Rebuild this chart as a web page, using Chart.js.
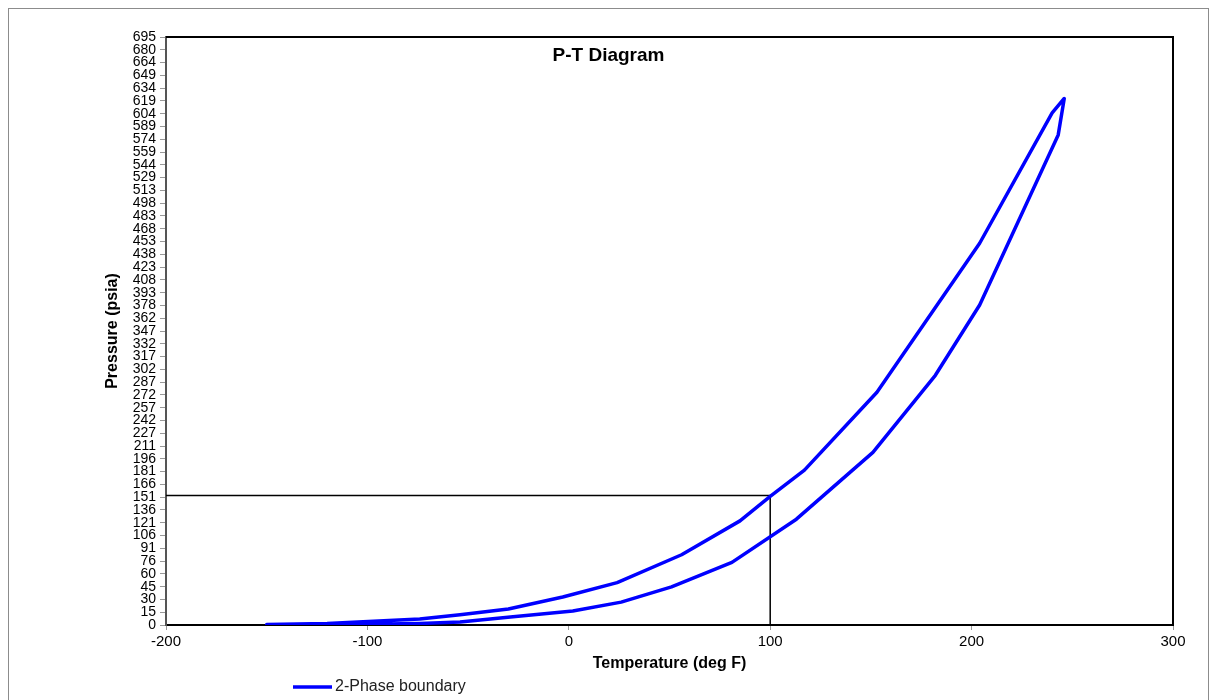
<!DOCTYPE html>
<html lang="en">
<head>
  <meta charset="UTF-8">
  <title>P-T Diagram</title>
  <script src="https://cdn.jsdelivr.net/npm/chart.js"></script>
  <style>
    html, body { margin: 0; padding: 0; background: #fff; }
    #wrap { width: 1217px; height: 700px; }
  </style>
</head>
<body>
<div id="wrap"><canvas id="ptChart" width="1217" height="700"></canvas></div>
<script>
  // bubble-point side, left to right up to the critical point
  const bubbleTemp = [-150, -120, -74, -54, -30, -3, 24, 56, 85, 100, 117, 153, 204, 240, 246];
  const bubblePres = [0.5, 1.8, 7, 12, 19, 33, 50, 83, 123, 152, 183, 275, 451, 605, 622];
  // dew-point side, coming back down from the critical point
  const dewTemp = [243, 204, 182, 151, 113, 81, 51, 26, 2, -29, -54, -74, -100, -150];
  const dewPres = [579, 378, 295, 204, 125, 74, 45, 27, 16.5, 9.5, 3.5, 1.8, 0.8, 0.5];
  // operating point guide lines
  const refTemp = [-200, 100, 100];
  const refPres = [153, 153, 0];

  const yTickLabels = [0, 15, 30, 45, 60, 76, 91, 106, 121, 136, 151, 166, 181, 196, 211, 227,
    242, 257, 272, 287, 302, 317, 332, 347, 362, 378, 393, 408, 423, 438, 453, 468, 483, 498,
    513, 529, 544, 559, 574, 589, 604, 619, 634, 649, 664, 680, 695];
  const yMax = 694.65;
  const xMin = -200, xMax = 300, xStep = 100;

  const FONT = "'Liberation Sans', Arial, sans-serif";

  const boundary = bubbleTemp.map((t, i) => ({ x: t, y: bubblePres[i] }))
    .concat(dewTemp.map((t, i) => ({ x: t, y: dewPres[i] })));
  const guide = refTemp.map((t, i) => ({ x: t, y: refPres[i] }));

  const decor = {
    id: 'decor',
    beforeDraw(chart) {
      const ctx = chart.ctx;
      ctx.save();
      ctx.fillStyle = '#fff';
      ctx.fillRect(0, 0, chart.width, chart.height);
      ctx.strokeStyle = '#8c8c8c';
      ctx.lineWidth = 1;
      ctx.strokeRect(8.5, 8.5, chart.width - 17, chart.height + 20);
      ctx.restore();
    },
    afterDraw(chart) {
      const ctx = chart.ctx;
      const a = chart.chartArea;
      ctx.save();
      // top and right edges of the plot frame
      ctx.strokeStyle = '#000';
      ctx.lineWidth = 2;
      ctx.beginPath();
      ctx.moveTo(a.left, a.top);
      ctx.lineTo(a.right, a.top);
      ctx.lineTo(a.right, a.bottom);
      ctx.stroke();

      // chart title
      ctx.fillStyle = '#000';
      ctx.font = 'bold 19px ' + FONT;
      ctx.textAlign = 'center';
      ctx.textBaseline = 'middle';
      ctx.fillText('P-T Diagram', chart.width / 2, a.top + 19);

      // legend
      const ly = chart.height - 13;
      ctx.strokeStyle = '#0000ff';
      ctx.lineWidth = 3.5;
      ctx.beginPath();
      ctx.moveTo(293, ly);
      ctx.lineTo(332, ly);
      ctx.stroke();
      ctx.fillStyle = '#222';
      ctx.font = '16px ' + FONT;
      ctx.textAlign = 'left';
      ctx.fillText(chart.data.datasets[0].label, 335, ly);
      ctx.restore();
    }
  };

  new Chart(document.getElementById('ptChart'), {
    type: 'scatter',
    data: {
      datasets: [{
        label: '2-Phase boundary',
        data: boundary,
        showLine: true,
        borderColor: '#0000ff',
        borderWidth: 3.5,
        pointRadius: 0,
        tension: 0,
        borderJoinStyle: 'round',
        borderCapStyle: 'round'
      }, {
        label: 'guide',
        data: guide,
        showLine: true,
        borderColor: '#000',
        borderWidth: 1.5,
        pointRadius: 0,
        tension: 0
      }]
    },
    options: {
      responsive: false,
      animation: false,
      layout: { padding: { left: 100, right: 44, top: 37, bottom: 27 } },
      plugins: {
        legend: { display: false },
        title: { display: false },
        tooltip: { enabled: false }
      },
      scales: {
        x: {
          type: 'linear',
          min: xMin,
          max: xMax,
          afterFit(scale) { scale.height = 48; },
          ticks: {
            stepSize: xStep,
            color: '#000',
            padding: 3,
            font: { family: FONT, size: 15 }
          },
          grid: { drawOnChartArea: false, drawTicks: true, tickLength: 5, color: '#999' },
          border: { display: true, color: '#000', width: 2 },
          title: {
            display: true,
            text: 'Temperature (deg F)',
            color: '#000',
            font: { family: FONT, size: 16, weight: 'bold' },
            padding: { top: 0, bottom: 0 }
          }
        },
        y: {
          type: 'linear',
          min: 0,
          max: yMax,
          afterFit(scale) { scale.width = 66; },
          afterBuildTicks(scale) {
            const step = yMax / (yTickLabels.length - 1);
            scale.ticks = yTickLabels.map((v, i) => ({ value: i * step }));
          },
          ticks: {
            autoSkip: false,
            color: '#000',
            padding: 4,
            font: { family: FONT, size: 14 },
            callback: (v, i) => yTickLabels[i]
          },
          grid: { drawOnChartArea: false, drawTicks: true, tickLength: 6, color: '#999' },
          border: { display: true, color: '#555', width: 2 },
          title: {
            display: true,
            text: 'Pressure (psia)',
            color: '#000',
            font: { family: FONT, size: 16, weight: 'bold' },
            padding: { top: 3, bottom: 0 }
          }
        }
      }
    },
    plugins: [decor]
  });
</script>
</body>
</html>
